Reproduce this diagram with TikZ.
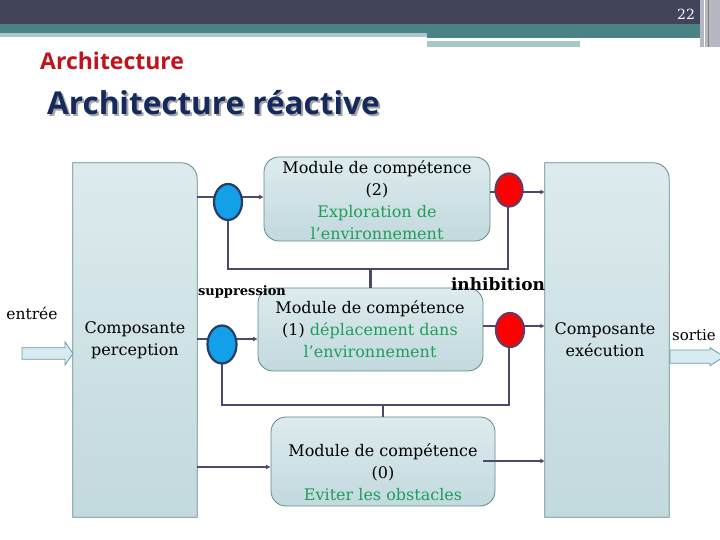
\documentclass[tikz,border=0pt]{standalone}
\usepackage{fontspec}
\setmainfont{DejaVu Serif}
\newfontfamily\titlefont{Open Sans}
\usetikzlibrary{arrows.meta,shapes.geometric,calc}
\definecolor{hdrdark}{HTML}{424459}
\definecolor{hdrteal}{HTML}{4A8286}
\definecolor{hdrlight}{HTML}{A9C7C9}
\definecolor{hdrgrey}{HTML}{B4B7BF}
\definecolor{titred}{HTML}{C0141C}
\definecolor{titnavy}{HTML}{15295C}
\definecolor{boxtop}{HTML}{DDEBEE}
\definecolor{boxbot}{HTML}{C2D9DD}
\definecolor{boxline}{HTML}{5E8A8D}
\definecolor{wirecol}{HTML}{4A4A70}
\definecolor{grn}{HTML}{1E9E5A}
\definecolor{bluefill}{HTML}{12A0E8}
\definecolor{blueline}{HTML}{2B3C62}
\definecolor{redfill}{HTML}{FF0000}
\definecolor{redline}{HTML}{6A3A5C}
\definecolor{arrfill}{HTML}{D8EBF0}
\definecolor{arrline}{HTML}{6C9CAA}
\definecolor{shadowgrey}{HTML}{A6A6A6}
\tikzset{
  bigframe/.style={inner sep=0pt, minimum width=124pt, minimum height=354pt},
  modbox/.style={draw=boxline, line width=0.8pt, rounded corners=15pt,
    top color=boxtop, bottom color=boxbot, inner sep=0pt},
  modtext/.style={align=center, inner sep=0pt, font=\fontsize{16}{22}\selectfont},
  wire/.style={draw=wirecol, line width=2.3pt},
  wirearrow/.style={wire, -{Latex[length=4.5pt,width=5pt]}},
  bluedot/.style={ellipse, draw=blueline, line width=2.2pt, fill=bluefill, inner sep=0pt},
  reddot/.style={ellipse, draw=redline, line width=2.2pt, fill=redfill, inner sep=0pt},
  plain/.style={inner sep=0pt, font=\fontsize{16}{22}\selectfont},
  blockarrow/.style={draw=arrline, fill=arrfill, line width=0.8pt}
}
\begin{document}
\begin{tikzpicture}[x=1pt,y=1pt]
\useasboundingbox (0,0) rectangle (720,540);
\fill[white] (0,0) rectangle (720,540);
% header
\fill[hdrdark] (0,516) rectangle (720,540);
\fill[hdrteal] (0,507) rectangle (720,516);
\fill[hdrlight] (0,503) rectangle (427,507);
\fill[hdrteal] (427,502) rectangle (700,507);
\fill[hdrlight] (427,493) rectangle (580,499);
\fill[hdrgrey] (700,493) rectangle (720,540);
\draw[white, line width=0.8pt] (704,493) -- (704,540);
\draw[gray, line width=0.6pt] (708,493) -- (708,540);
\node[text=white, inner sep=0pt, font=\fontsize{14}{16}\selectfont] (pagenum) at (686,526) {22};
% titles
\node[anchor=base west, inner sep=0pt, text=titred, font=\titlefont\bfseries\fontsize{23}{26}\selectfont] (t1) at (40,470) {Architecture};
\node[anchor=base west, inner sep=0pt, text=titnavy, font=\titlefont\bfseries\fontsize{31.5}{36}\selectfont] (t2) at (47,425)
  {\rlap{\hspace{2pt}\raisebox{-2pt}{\textcolor{shadowgrey}{Architecture réactive}}}Architecture réactive};
% big boxes
\node[bigframe] (perc) at (135,200) {};
\node[bigframe] (exec) at (607,200) {};
\shade[top color=boxtop, bottom color=boxbot, draw=boxline, line width=0.8pt]
  (perc.south west) -- (perc.north west) -- ($(perc.north east)+(-16,0)$)
  arc[start angle=90, end angle=0, radius=16pt] -- (perc.south east) -- cycle;
\shade[top color=boxtop, bottom color=boxbot, draw=boxline, line width=0.8pt]
  (exec.south west) -- (exec.north west) -- ($(exec.north east)+(-16,0)$)
  arc[start angle=90, end angle=0, radius=16pt] -- (exec.south east) -- cycle;
\node[plain, align=center] (perct) at (135,200) {Composante\\perception};
\node[plain, align=center] (exect) at (605,200) {Composante\\exécution};
% modules
\node[modbox, minimum width=226pt, minimum height=84pt] (m2) at (377,341) {};
\node[modbox, minimum width=225pt, minimum height=83pt] (m1) at (370.5,210.5) {};
\node[modbox, minimum width=224pt, minimum height=89pt] (m0) at (383,78.5) {};
\node[modtext] (m2t) at (377,340) {Module de compétence\\(2)\\\textcolor{grn}{Exploration de}\\\textcolor{grn}{l’environnement}};
\node[modtext] (m1t) at (370,211) {Module de compétence\\(1) \textcolor{grn}{déplacement dans}\\\textcolor{grn}{l’environnement}};
\node[modtext] (m0t) at (383,68) {Module de compétence\\(0)\\\textcolor{grn}{Eviter les obstacles}};
% coordinates for wire rows
\coordinate (r2l) at (0,343);
\coordinate (r2r) at (0,348);
\coordinate (r1l) at (0,201);
\coordinate (r1r) at (0,214);
\coordinate (r0l) at (0,73);
\coordinate (r0r) at (0,79);
\coordinate (loopA) at (0,271);
\coordinate (loopB) at (0,135);
\coordinate (m0out) at (483,79);
% dots positions
\coordinate (b1c) at (228,338);
\coordinate (b2c) at (222,195.5);
\coordinate (r1c) at (509,350);
\coordinate (r2c) at (510,210);
% wires
\draw[wirearrow] (perc.east |- r2l) -- (m2.west |- r2l);
\draw[wirearrow] (m2.east |- r2r) -- (exec.west |- r2r);
\draw[wirearrow] (perc.east |- r1l) -- (m1.west |- r1l);
\draw[wirearrow] (m1.east |- r1r) -- (exec.west |- r1r);
\draw[wirearrow] (perc.east |- r0l) -- (m0.west |- r0l);
\draw[wirearrow] (m0out) -- (exec.west |- r0r);
\draw[wire] (b1c) -- (b1c |- loopA) -- (508,271) -- (508,350);
\draw[wire] (m1.north) -- (m1.north |- loopA);
\draw[wire] (b2c) -- (b2c |- loopB) -- (509,135) -- (509,210);
\draw[wire] (m0.north) -- (m0.north |- loopB);
% dots
\node[bluedot, minimum width=28pt, minimum height=36pt] (blue1) at (b1c) {};
\node[bluedot, minimum width=29pt, minimum height=38pt] (blue2) at (b2c) {};
\node[reddot, minimum width=27pt, minimum height=33pt] (red1) at (r1c) {};
\node[reddot, minimum width=28pt, minimum height=34pt] (red2) at (r2c) {};
% labels
\node[inner sep=0pt, font=\bfseries\fontsize{13}{15}\selectfont] (supp) at (242,248) {suppression};
\node[inner sep=0pt, font=\bfseries\fontsize{17}{20}\selectfont] (inhib) at (498,256) {inhibition};
\node[inner sep=0pt, font=\fontsize{15.5}{20}\selectfont] (entree) at (32,227) {entrée};
\node[inner sep=0pt, font=\fontsize{15}{20}\selectfont] (sortie) at (694,205) {sortie};
% block arrows
\coordinate (inA) at (22,186.5);
\coordinate (outA) at (670,183.3);
\draw[blockarrow] ($(inA)+(0,5.8)$) -- ++(43,0) -- ++(0,5.8) -- (73,186.5) -- (65,175) -- ++(0,5.7) -- ($(inA)+(0,-5.8)$) -- cycle;
\draw[blockarrow] ($(outA)+(0,6.6)$) -- ++(40,0) -- ++(0,2.4) -- (724,183.3) -- (710,174.3) -- ++(0,2.4) -- ($(outA)+(0,-6.6)$) -- cycle;
\end{tikzpicture}
\end{document}
